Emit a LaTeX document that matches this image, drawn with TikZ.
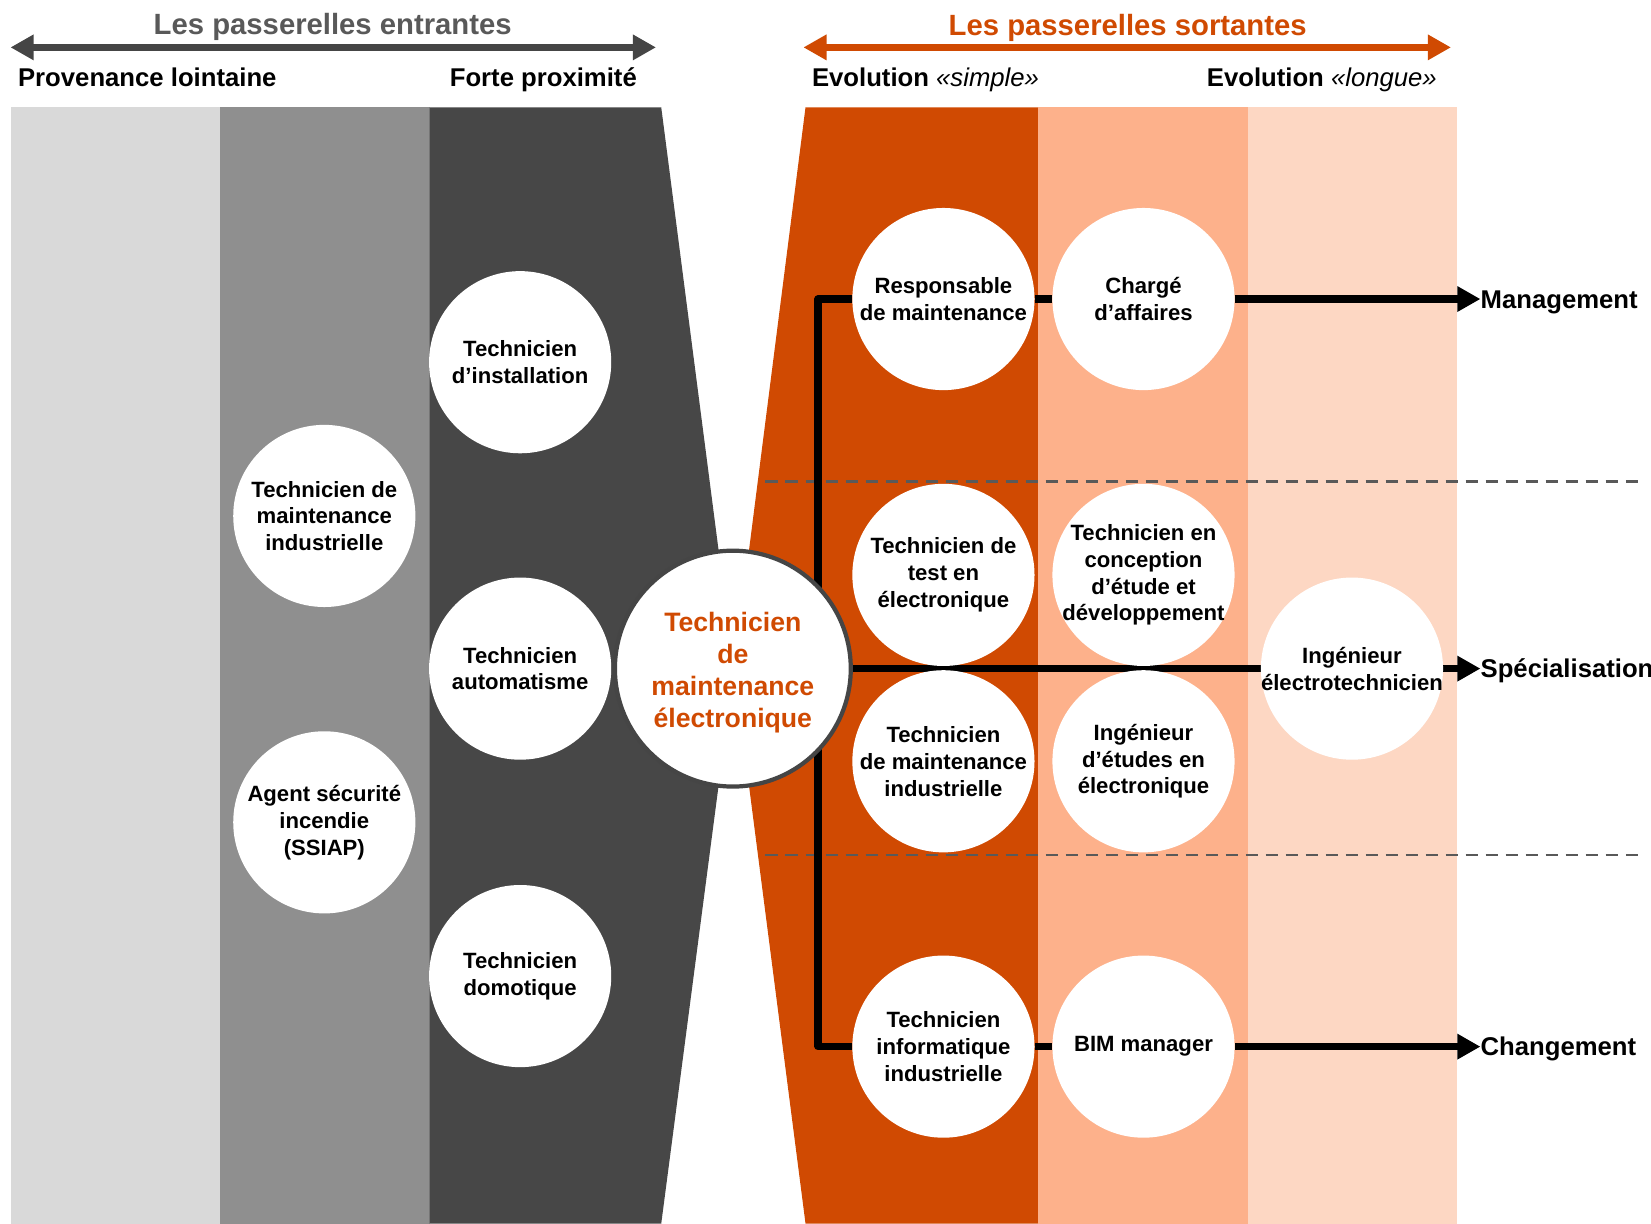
\documentclass[tikz,border=0pt]{standalone}
\usepackage{fontspec}
\setmainfont{Liberation Sans}
\usetikzlibrary{arrows.meta}
\definecolor{lgray}{HTML}{D9D9D9}
\definecolor{mgray}{HTML}{8F8F8F}
\definecolor{dgray}{HTML}{474747}
\definecolor{tgray}{HTML}{595959}
\definecolor{agray}{HTML}{454545}
\definecolor{orng}{HTML}{D04A02}
\definecolor{salmon}{HTML}{FDB18B}
\definecolor{peach}{HTML}{FDD7C3}
\pgfdeclarelayer{background}
\pgfdeclarelayer{lines}
\pgfsetlayers{background,lines,main}
\begin{document}
\begin{tikzpicture}[x=1pt,y=-1pt,
  circ/.style={circle, fill=white, minimum size=173pt, inner sep=-12pt, align=center,
    font=\bfseries\fontsize{21}{25.5}\selectfont, text=black},
  bigcirc/.style={circle, fill=white, draw=agray, line width=4pt, minimum size=224pt,
    inner sep=0pt, text=orng, font=\bfseries\fontsize{25.3}{30.5}\selectfont},
  conn/.style={line width=7pt, black, line join=round},
  tipped/.style={-{Triangle[length=22pt,width=23pt]}},
  dbl/.style={line width=6pt, {Triangle[length=22pt,width=23pt]}-{Triangle[length=22pt,width=23pt]}},
  hdr/.style={font=\bfseries\fontsize{27.8}{32}\selectfont, inner sep=0pt, text height=19.9pt, text depth=0pt},
  subhdr/.style={font=\fontsize{24.4}{28}\selectfont, inner sep=0pt, text=black, text height=17.5pt, text depth=0pt},
  lbl/.style={font=\bfseries\fontsize{24.4}{28}\selectfont, inner sep=0pt, anchor=west, text=black, text height=17.5pt, text depth=0pt},
  sepline/.style={draw=tgray, line width=2.5pt, dash pattern=on 12pt off 7pt}
]
\useasboundingbox (0,0) rectangle (1568,1162);

% headers
\node[hdr, text=tgray] (tin) at (316,23) {Les passerelles entrantes};
\node[hdr, text=orng] (tout) at (1071,24) {Les passerelles sortantes};
\coordinate (ginl) at (10,45);
\coordinate (ginr) at (623,45);
\coordinate (goutl) at (763,45);
\coordinate (goutr) at (1378,45);
\draw[dbl, agray] (ginl) -- (ginr);
\draw[dbl, orng] (goutl) -- (goutr);
\node[subhdr, anchor=west] (prov) at (17,73) {\bfseries Provenance lointaine};
\node[subhdr, anchor=east] (forte) at (605,73) {\bfseries Forte proximité};
\node[subhdr, anchor=west] (evs) at (771,73) {\bfseries Evolution \mdseries\itshape «simple»};
\node[subhdr, anchor=west] (evl) at (1146,73) {\bfseries Evolution \mdseries\itshape «longue»};

% bands
\begin{pgfonlayer}{background}
\fill[white] (0,0) rectangle (1568,1162);
\fill[lgray] (10,102) rectangle (209,1162);
\fill[mgray] (209,102) rectangle (408,1162);
\fill[dgray] (408,102) -- (628,102) -- (697,635) -- (628,1162) -- (408,1162) -- cycle;
\fill[orng] (765,102) -- (986,102) -- (986,1162) -- (765,1162) -- (697,635) -- cycle;
\fill[salmon] (986,102) rectangle (1185,1162);
\fill[peach] (1185,102) rectangle (1384,1162);
\end{pgfonlayer}

% left circles
\node[circ] (inst) at (494,344) {Technicien\\d’installation};
\node[circ] (tmi) at (308,490) {Technicien de\\maintenance\\industrielle};
\node[circ] (auto) at (494,635) {Technicien\\automatisme};
\node[circ] (agent) at (308,781) {Agent sécurité\\incendie\\(SSIAP)};
\node[circ] (domo) at (494,927) {Technicien\\domotique};

% center
\node[bigcirc] (tme) at (696,635) {\raisebox{-4pt}[\height][\depth]{\begin{tabular}{@{}c@{}}Technicien\\de\\maintenance\\électronique\end{tabular}}};

% right circles
\node[circ] (resp) at (896,284) {Responsable\\de maintenance};
\node[circ] (charge) at (1086,284) {Chargé\\d’affaires};
\node[circ] (test) at (896,546) {Technicien de\\test en\\électronique};
\node[circ] (conc) at (1086,546) {Technicien en\\conception\\d’étude et\\développement};
\node[circ] (tmid) at (896,723) {Technicien\\de maintenance\\industrielle};
\node[circ] (ied) at (1086,723) {Ingénieur\\d’études en\\électronique};
\node[circ] (ielec) at (1284,635) {Ingénieur\\électrotechnicien};
\node[circ] (tii) at (896,994) {Technicien\\informatique\\industrielle};
\node[circ] (bim) at (1086,994) {BIM manager};

% labels
\node[lbl] (mgmt) at (1406,284) {Management};
\node[lbl] (spec) at (1406,635) {Spécialisation};
\node[lbl] (chg) at (1406,994) {Changement};

% connectors
\coordinate (jtop) at (777,284);
\coordinate (jbot) at (777,994);
\coordinate (dl1) at (727,457);
\coordinate (dr1) at (1560,457);
\coordinate (dl2) at (727,812);
\coordinate (dr2) at (1560,812);
\begin{pgfonlayer}{lines}
\draw[sepline] (dl1) -- (dr1);
\draw[sepline] (dl2) -- (dr2);
\draw[conn] (resp) -- (jtop) -- (jbot) -- (tii);
\draw[conn] (resp) -- (charge);
\draw[conn, tipped] (charge) -- (mgmt.west);
\draw[conn] (tme) -- (ielec);
\draw[conn, tipped] (ielec) -- (spec.west);
\draw[conn] (tii) -- (bim);
\draw[conn, tipped] (bim) -- (chg.west);
\end{pgfonlayer}
\end{tikzpicture}
\end{document}
